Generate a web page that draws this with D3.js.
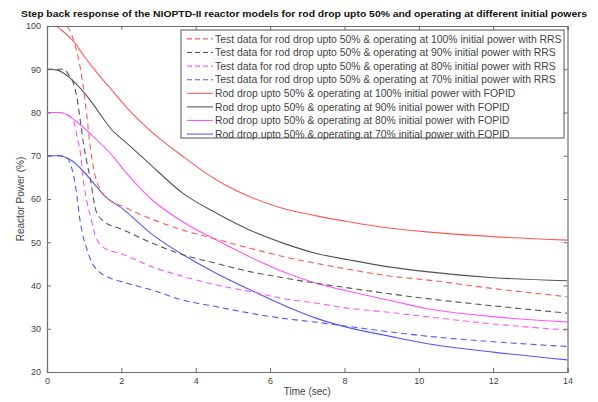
<!DOCTYPE html>
<html>
<head>
<meta charset="utf-8">
<script src="https://cdn.jsdelivr.net/npm/d3@7"></script>
<style>
  html, body { margin: 0; padding: 0; background: #fff; }
  svg { display: block; font-family: "Liberation Sans", Arial, sans-serif; }
</style>
</head>
<body>
<svg id="chart" width="598" height="402"></svg>
<script>
// Time axis (s) and reactor power (%) samples for each response
const xTicks = [0, 2, 4, 6, 8, 10, 12, 14];
const yTicks = [20, 30, 40, 50, 60, 70, 80, 90, 100];

const testRRS100 = [[0,100],[0.5,100],[0.73,96.3],[0.9,90.1],[1.04,81.7],[1.17,71.6],[1.26,66.7],[1.44,62.1],[1.62,60.2],[2.07,58.2],[2.8,55.4],[3.66,52.8],[4.56,50.7],[5.46,48.6],[6.35,46.7],[7.25,45.1],[8.14,43.7],[9.2,42.2],[10.2,41.3],[12.0,39.3],[14,37.4]];
const testRRS90 = [[0,90],[0.3,90],[0.45,90],[0.59,88.6],[0.73,86.3],[0.81,83.2],[0.9,77.8],[0.99,72.4],[1.07,68.6],[1.17,64.4],[1.31,57.5],[1.49,55.1],[2.07,52.8],[2.8,49.9],[3.66,47.1],[4.56,45.1],[5.46,43.2],[6.35,41.8],[7.25,40.5],[8.14,39.4],[9.2,38.1],[10.2,37.0],[12.0,35.3],[14,33.6]];
const testRRS80 = [[0,80],[0.3,80],[0.46,79.9],[0.59,79.3],[0.73,77.8],[0.81,74.3],[0.9,70.5],[0.99,63.6],[1.17,55.9],[1.31,51.3],[1.49,49.0],[2.07,47.1],[2.8,44.4],[3.66,42.1],[4.56,40.1],[5.46,38.6],[6.35,37.0],[7.25,35.9],[8.14,34.7],[9.2,33.8],[10.2,32.8],[12.0,31.1],[14,29.7]];
const testRRS70 = [[0,70],[0.37,70],[0.55,69.4],[0.68,66.7],[0.77,62.8],[0.9,54.4],[1.08,48.2],[1.22,45.1],[1.4,43.2],[1.71,41.7],[2.0,40.9],[2.8,39.0],[3.66,36.6],[4.56,35.1],[5.46,33.6],[6.35,32.4],[7.25,31.5],[8.14,30.5],[9.2,29.3],[10.2,28.3],[12.0,27.0],[14,25.9]];

const fopid100 = [[0,100],[0.19,100],[0.45,98.6],[0.73,96.3],[1.0,93.0],[1.26,90.1],[1.71,85.5],[2.2,80.6],[2.7,76.4],[3.66,69.8],[4.56,64.4],[5.46,60.5],[6.35,57.8],[7.25,56.1],[8.14,54.7],[9.2,53.3],[10.2,52.4],[12.0,51.3],[14,50.5]];
const fopid90 = [[0,90],[0.27,89.8],[0.5,88.8],[0.73,87.1],[0.99,84.7],[1.26,81.7],[1.71,76.3],[2.16,72.8],[2.7,68.6],[3.66,61.3],[4.56,56.7],[5.46,52.8],[6.35,49.8],[7.25,47.4],[8.14,45.9],[9.2,44.3],[10.2,43.2],[12.0,41.8],[14,41.1]];
const fopid80 = [[0,80],[0.37,80],[0.6,79.1],[0.81,77.8],[1.26,74.3],[1.71,70.5],[2.07,66.7],[2.8,60.0],[3.66,54.7],[4.56,50.5],[5.46,46.6],[6.35,43.2],[7.25,40.5],[8.14,38.6],[9.2,36.6],[10.2,34.7],[12.0,32.8],[14,31.6]];
const fopid70 = [[0,70],[0.28,70],[0.64,69.0],[0.99,66.3],[1.26,63.6],[1.53,60.9],[2.07,57.5],[2.8,52.0],[3.66,47.1],[4.56,42.8],[5.46,39.0],[6.35,35.5],[7.25,32.4],[8.14,30.2],[9.2,28.3],[10.2,26.6],[12.0,24.6],[14,22.8]];

const seriesNames = [
  "Test data for rod drop upto 50% & operating at 100% initial power with RRS",
  "Test data for rod drop upto 50% & operating at 90% initial power with RRS",
  "Test data for rod drop upto 50% & operating at 80% initial power with RRS",
  "Test data for rod drop upto 50% & operating at 70% initial power with RRS",
  "Rod drop upto 50% & operating at 100% initial power with FOPID",
  "Rod drop upto 50% & operating at 90% initial power with FOPID",
  "Rod drop upto 50% & operating at 80% initial power with FOPID",
  "Rod drop upto 50% & operating at 70% initial power with FOPID"
];
const seriesData = [testRRS100, testRRS90, testRRS80, testRRS70, fopid100, fopid90, fopid80, fopid70];
const seriesColors = ["#ff5a5a", "#555555", "#ff55ff", "#5555ff", "#ff5a5a", "#555555", "#ff55ff", "#5555ff"];
const seriesDashed = [true, true, true, true, false, false, false, false];

const titleText = "Step back response of the NIOPTD-II reactor models for rod drop upto 50% and operating at different initial powers";
const xLabel = "Time (sec)";
const yLabel = "Reactor Power (%)";

const svg = d3.select("#chart");
const plotLeft = 47, plotRight = 567.5, plotTop = 26, plotBottom = 372;

const x = d3.scaleLinear().domain([0, 14]).range([plotLeft, plotRight]);
const y = d3.scaleLinear().domain([20, 100]).range([plotBottom, plotTop]);

const axisColor = "#6f6f6f";
const labelColor = "#444";

// Plot area clip
svg.append("defs").append("clipPath").attr("id", "plotClip")
  .append("rect").attr("x", plotLeft).attr("y", plotTop)
  .attr("width", plotRight - plotLeft).attr("height", plotBottom - plotTop);

// Series lines
const line = d3.line().x(d => x(d[0])).y(d => y(d[1])).curve(d3.curveMonotoneX);
const plot = svg.append("g").attr("clip-path", "url(#plotClip)");
// solid lines first, dashed on top
const order = [4, 5, 6, 7, 0, 1, 2, 3];
order.forEach(i => {
  plot.append("path")
    .attr("d", line(seriesData[i]))
    .attr("fill", "none")
    .attr("stroke", seriesColors[i])
    .attr("stroke-width", 1.1)
    .attr("stroke-dasharray", seriesDashed[i] ? "6,4" : null);
});

// Axes with inward ticks on all four sides
const tickLen = 4;
const axB = svg.append("g").attr("transform", `translate(0,${plotBottom})`)
  .call(d3.axisBottom(x).tickValues(xTicks).tickSize(-tickLen).tickPadding(6).tickFormat(d3.format("d")));
const axT = svg.append("g").attr("transform", `translate(0,${plotTop})`)
  .call(d3.axisTop(x).tickValues(xTicks).tickSize(-tickLen).tickFormat(""));
const axL = svg.append("g").attr("transform", `translate(${plotLeft},0)`)
  .call(d3.axisLeft(y).tickValues(yTicks).tickSize(-tickLen).tickPadding(6).tickFormat(d3.format("d")));
const axR = svg.append("g").attr("transform", `translate(${plotRight},0)`)
  .call(d3.axisRight(y).tickValues(yTicks).tickSize(-tickLen).tickFormat(""));

[axB, axT, axL, axR].forEach(a => {
  a.select(".domain").attr("stroke", axisColor).attr("stroke-width", 1.2);
  a.selectAll(".tick line").attr("stroke", axisColor);
  a.selectAll(".tick text").attr("fill", labelColor).style("font-size", "9px")
    .style("font-family", "'Liberation Sans', Arial, sans-serif");
});

// Title and axis labels
svg.append("text")
  .attr("x", 304).attr("y", 17)
  .attr("text-anchor", "middle")
  .style("font-size", "9.5px").style("font-weight", "bold")
  .attr("fill", "#111")
  .attr("textLength", 566).attr("lengthAdjust", "spacingAndGlyphs")
  .text(titleText);

svg.append("text")
  .attr("x", (plotLeft + plotRight) / 2).attr("y", 395)
  .attr("text-anchor", "middle")
  .style("font-size", "10px").attr("fill", labelColor)
  .text(xLabel);

svg.append("text")
  .attr("transform", `translate(23.5,${(plotTop + plotBottom) / 2}) rotate(-90)`)
  .attr("text-anchor", "middle")
  .style("font-size", "10px").attr("fill", labelColor)
  .text(yLabel);

// Legend
const lg = svg.append("g");
lg.append("rect")
  .attr("x", 181).attr("y", 30).attr("width", 383).attr("height", 108)
  .attr("fill", "#fff").attr("stroke", "#555").attr("stroke-width", 1);
seriesNames.forEach((name, i) => {
  const ly = 38.9 + i * 13.6;
  lg.append("line")
    .attr("x1", 187).attr("x2", 213).attr("y1", ly).attr("y2", ly)
    .attr("stroke", seriesColors[i]).attr("stroke-width", 1.1)
    .attr("stroke-dasharray", seriesDashed[i] ? "5,3" : null);
  lg.append("text")
    .attr("x", 215).attr("y", ly + 3.7)
    .style("font-size", "10.4px").attr("fill", labelColor)
    .text(name);
});
</script>
</body>
</html>
